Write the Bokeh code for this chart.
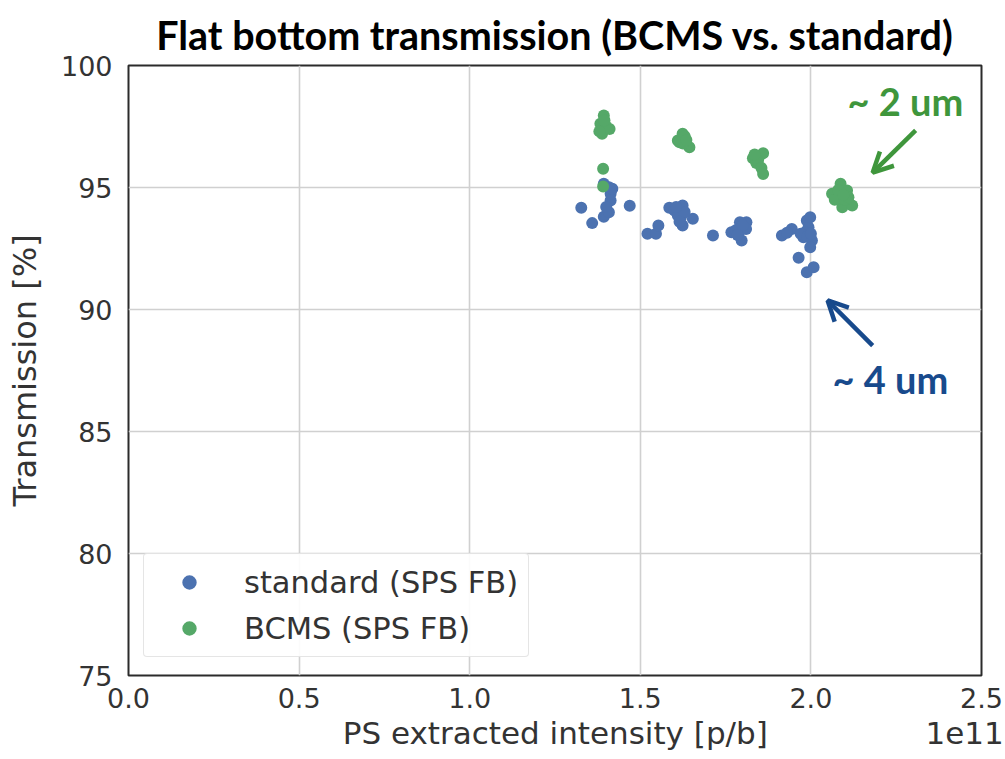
from bokeh.plotting import figure
from bokeh.models import Range1d, FixedTicker, PrintfTickFormatter, Label, Arrow, OpenHead
from bokeh.embed import file_html
from bokeh.resources import INLINE

# PS extracted intensity in units of 1e11 protons per bunch, transmission in %
standard_intensity = [
    1.327, 1.359, 1.393, 1.408, 1.413, 1.413, 1.408, 1.393, 1.418, 1.469, 1.400,
    1.521, 1.546, 1.553, 1.585, 1.600, 1.624, 1.619, 1.624, 1.654, 1.610, 1.630, 1.605, 1.615,
    1.713,
    1.767, 1.792, 1.811, 1.797, 1.790, 1.810, 1.780, 1.800, 1.785,
    1.915, 1.944, 1.988, 1.993, 1.978, 2.003, 1.998, 1.964, 1.988, 2.008, 1.983, 1.970,
    1.998, 1.930, 1.990, 2.000,
]
standard_transmission = [
    94.17, 93.54, 93.80, 93.99, 94.47, 94.74, 95.01, 95.15, 94.95, 94.25, 94.20,
    93.10, 93.10, 93.44, 94.17, 94.06, 94.26, 93.78, 93.44, 93.72, 93.85, 94.00, 94.20, 93.60,
    93.03,
    93.17, 93.58, 93.58, 92.83, 93.20, 93.30, 93.25, 93.45, 93.05,
    93.03, 93.30, 93.65, 93.37, 92.96, 92.83, 92.55, 92.12, 91.53, 91.73, 93.17, 93.10,
    93.78, 93.15, 93.00, 93.10,
]

bcms_intensity = [
    1.393, 1.383, 1.400, 1.388, 1.410, 1.380, 1.395, 1.391, 1.391,
    1.624, 1.610, 1.644, 1.625, 1.630, 1.615, 1.635,
    1.830, 1.840, 1.850, 1.860, 1.845, 1.855, 1.860, 1.835,
    2.087, 2.062, 2.106, 2.092, 2.121, 2.070, 2.100, 2.110, 2.080, 2.095,
]
bcms_transmission = [
    97.95, 97.61, 97.50, 97.20, 97.40, 97.30, 97.75, 95.77, 95.04,
    97.20, 96.93, 96.65, 96.80, 97.10, 96.85, 96.95,
    96.20, 96.00, 96.30, 96.40, 96.10, 95.80, 95.55, 96.35,
    95.15, 94.74, 94.88, 94.19, 94.26, 94.50, 94.50, 94.60, 94.90, 94.70,
]

x_ticks = [0.0, 0.5, 1.0, 1.5, 2.0, 2.5]
y_ticks = [75, 80, 85, 90, 95, 100]

TITLE = "Flat bottom transmission (BCMS vs. standard)"
X_LABEL = "PS extracted intensity [p/b]"
X_SCALE = "1e11"
Y_LABEL = "Transmission [%]"

BLUE = "#4C72B0"
GREEN = "#55A868"
AXIS_FONT = "DejaVu Sans"
TEXT_GREY = "#333333"
NBSP = "\u00a0"

p = figure(
    frame_width=853, frame_height=610,
    x_range=Range1d(0, 2.5), y_range=Range1d(75, 100),
    min_border_left=128, min_border_right=24, min_border_top=65, min_border_bottom=84,
    output_backend="svg", toolbar_location=None,
)
p.background_fill_color = "white"
p.border_fill_color = "white"
p.outline_line_color = "#2b2b2b"
p.outline_line_width = 2

p.title.text = TITLE
p.title.align = "center"
p.title.offset = -8
p.title.text_font = "Lato"
p.title.text_font_style = "bold"
p.title.text_font_size = "39.5px"
p.title.text_color = "black"
p.title.standoff = 16

for ax in (p.xaxis, p.yaxis):
    ax.axis_line_color = None
    ax.major_tick_line_color = None
    ax.minor_tick_line_color = None
    ax.major_tick_out = 0
    ax.major_tick_in = 0
    ax.major_label_text_font = AXIS_FONT
    ax.major_label_text_font_size = "27px"
    ax.major_label_text_color = TEXT_GREY
    ax.axis_label_text_font = AXIS_FONT
    ax.axis_label_text_font_style = "normal"
    ax.axis_label_text_color = TEXT_GREY

p.xaxis.ticker = FixedTicker(ticks=x_ticks)
p.yaxis.ticker = FixedTicker(ticks=y_ticks)
p.xaxis.formatter = PrintfTickFormatter(format="%.1f")
p.yaxis.formatter = PrintfTickFormatter(format="%d")
p.xaxis.major_label_standoff = 12
p.yaxis.major_label_standoff = 16

# the x label carries the 1e11 scale factor at its right end; the padding keeps
# the main text centred under the frame
p.xaxis.axis_label = NBSP * 24 + X_LABEL + NBSP * 16 + X_SCALE
p.xaxis.axis_label_text_font_size = "31px"
p.xaxis.axis_label_standoff = 4
p.yaxis.axis_label = Y_LABEL
p.yaxis.axis_label_text_font_size = "32px"
p.yaxis.axis_label_standoff = 14

p.grid.grid_line_color = "#d0d0d0"
p.grid.grid_line_width = 1.6
p.xgrid.ticker = FixedTicker(ticks=x_ticks)
p.ygrid.ticker = FixedTicker(ticks=y_ticks)

p.scatter(standard_intensity, standard_transmission, size=12, color=BLUE,
          line_color=None, legend_label="standard (SPS FB)")
p.scatter(bcms_intensity, bcms_transmission, size=12, color=GREEN,
          line_color=None, legend_label="BCMS (SPS FB)")

leg = p.legend[0]
leg.location = (15, 18)
leg.margin = 0
leg.padding = 10
leg.glyph_width = 70
leg.glyph_height = 36
leg.label_height = 36
leg.label_standoff = 20
leg.spacing = 10
leg.label_text_font = AXIS_FONT
leg.label_text_font_size = "30.5px"
leg.label_text_color = TEXT_GREY
leg.border_line_color = "#cccccc"
leg.border_line_width = 1.5
leg.border_radius = 4
leg.background_fill_alpha = 0.9

# emittance callouts
GREEN_NOTE = "#3f963c"
BLUE_NOTE = "#184a8c"
p.add_layout(Label(
    x=2.107, y=98.56, text="~ 2 um", text_baseline="alphabetic",
    text_font="Lato", text_font_style="bold", text_font_size="38px", text_color=GREEN_NOTE,
))
p.add_layout(Arrow(
    x_start=2.307, y_start=97.34, x_end=2.181, y_end=95.61,
    line_color=GREEN_NOTE, line_width=4.5,
    end=OpenHead(size=20, line_color=GREEN_NOTE, line_width=4.5),
))
p.add_layout(Label(
    x=2.063, y=87.17, text="~ 4 um", text_baseline="alphabetic",
    text_font="Lato", text_font_style="bold", text_font_size="38px", text_color=BLUE_NOTE,
))
p.add_layout(Arrow(
    x_start=2.181, y_start=88.52, x_end=2.049, y_end=90.37,
    line_color=BLUE_NOTE, line_width=4.5,
    end=OpenHead(size=20, line_color=BLUE_NOTE, line_width=4.5),
))

open("out.html", "w").write(file_html(p, INLINE))
